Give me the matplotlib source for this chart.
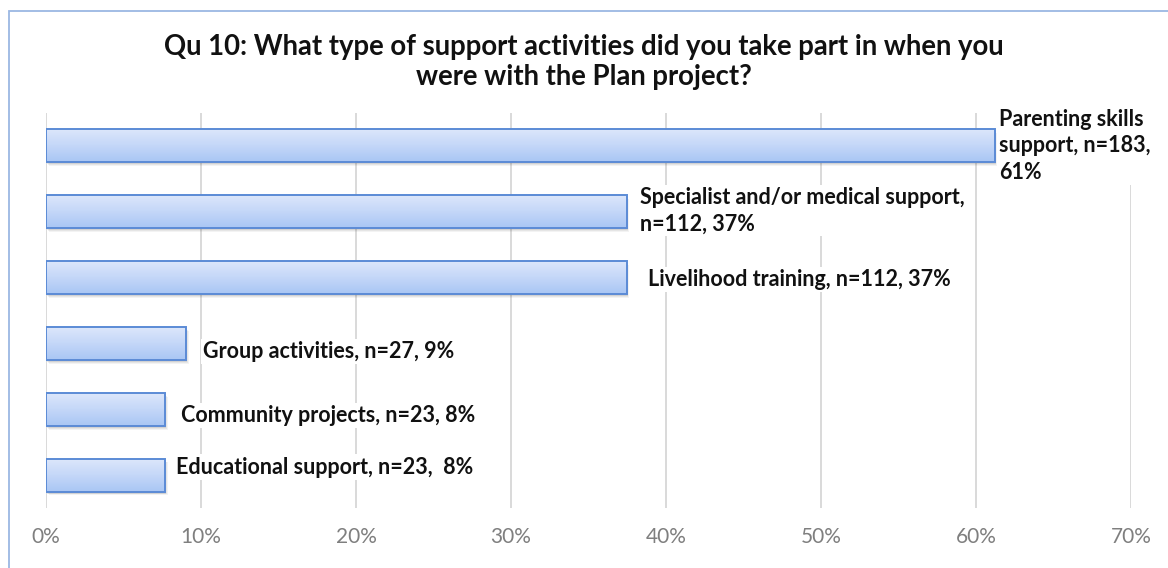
import matplotlib
matplotlib.use("Agg")
import matplotlib.pyplot as plt
import matplotlib.patches as mpatches
import matplotlib.transforms as mtransforms
from matplotlib.colors import LinearSegmentedColormap
import numpy as np

# Survey responses (respondents choosing each activity)
categories = [
    "Parenting skills\nsupport, n=183,\n61%",
    "Specialist and/or medical support,\nn=112, 37%",
    "Livelihood training, n=112, 37%",
    "Group activities, n=27, 9%",
    "Community projects, n=23, 8%",
    "Educational support, n=23,  8%",
]
counts = [183, 112, 112, 27, 23, 23]
respondents = 299
shares = [c / respondents for c in counts]
tick_values = [0, 0.1, 0.2, 0.3, 0.4, 0.5, 0.6, 0.7]
tick_labels = ["0%", "10%", "20%", "30%", "40%", "50%", "60%", "70%"]
title = ("Qu 10: What type of support activities did you take part in when you\n"
         "were with the Plan project?")

# label nudges in pixels (dx, dy), dy positive = downward
label_nudge = [(4, 0), (13, -1), (21, 2), (17, 8), (16, 6), (11, -8)]

FONT = "Lato"
W, H = 1168, 568
fig = plt.figure(figsize=(W / 100, H / 100), dpi=100)
fig.patch.set_facecolor("white")

# outer chart frame
fig.patches.append(mpatches.Rectangle(
    (9 / W, -0.2), 1.5, (H - 11) / H + 0.2, transform=fig.transFigure,
    fill=False, edgecolor="#9bb7e3", linewidth=1.3))

ax = fig.add_axes([46 / W, 1 - 508 / H, (1131 - 46) / W, (508 - 113) / H])
ax.set_xlim(0, 0.7)
ax.set_ylim(5.5, -0.5)
ax.set_facecolor("white")
for s in ax.spines.values():
    s.set_visible(False)

ax.set_xticks(tick_values)
ax.set_xticklabels(tick_labels, fontfamily=FONT, fontsize=15, color="#7f7f7f")
ax.tick_params(axis="x", length=0, pad=14)
ax.set_yticks([])
for t in tick_values:
    ax.axvline(t, color="#d9d9d9", linewidth=1.4, zorder=0)

grad_cmap = LinearSegmentedColormap.from_list("barfill", ["#dce7fb", "#c4d7f8", "#a9c6f4"])
grad = np.linspace(0, 1, 64).reshape(-1, 1)
bar_h = 0.5

for i, v in enumerate(shares):
    top, bot = i - bar_h / 2, i + bar_h / 2
    # soft drop shadow
    for k, a in enumerate([0.11, 0.08, 0.06]):
        off = mtransforms.offset_copy(ax.transData, fig=fig, x=1 + k * 0.8, y=-(2 + k * 0.9), units="dots")
        ax.add_patch(mpatches.Rectangle((0, top), v, bar_h, transform=off,
                                        facecolor="#404040", edgecolor="none", alpha=a, zorder=1))
    ax.imshow(grad, extent=(0, v, bot, top), origin="upper", aspect="auto",
              cmap=grad_cmap, interpolation="bilinear", zorder=2)
    ax.add_patch(mpatches.Rectangle((0, top), v, bar_h, fill=False,
                                    edgecolor="#5b8bd6", linewidth=1.4, zorder=3))
    dx, dy = label_nudge[i]
    ax.annotate(categories[i], xy=(v, i), xytext=(dx * 0.72, -dy * 0.72),
                textcoords="offset points", ha="left", va="center",
                fontfamily=FONT, fontweight="bold", fontsize=15.5, color="#111111",
                linespacing=1.3, zorder=5,
                bbox=dict(boxstyle="square,pad=0.1", facecolor="white", edgecolor="none"))

ax.set_xlim(0, 0.7)
ax.set_ylim(5.5, -0.5)

fig.text(584 / W, 1 - 62 / H, title, ha="center", va="center", fontfamily=FONT,
         fontweight="bold", fontsize=19.8, color="#111111", linespacing=1.18)

fig.savefig("out.png", dpi=100, facecolor="white")
